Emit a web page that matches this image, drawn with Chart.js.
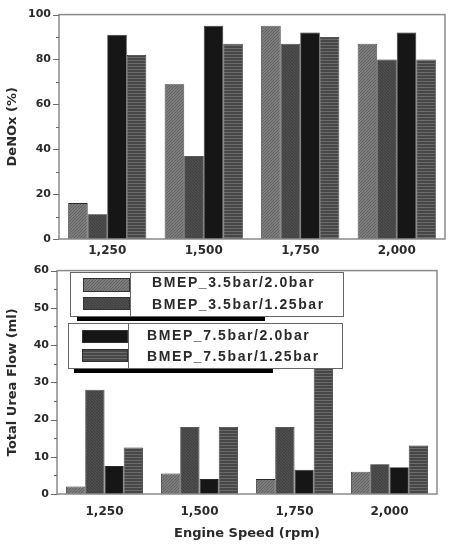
<!DOCTYPE html>
<html><head><meta charset="utf-8">
<script src="https://cdn.jsdelivr.net/npm/chart.js@4/dist/chart.umd.min.js"></script>
<style>
html,body{margin:0;padding:0;background:#fff;width:449px;height:545px;overflow:hidden;}
canvas{position:absolute;left:0;}
#c1{top:0;}
#c2{top:256px;}
</style></head>
<body>
<canvas id="c1" width="449" height="262"></canvas>
<canvas id="c2" width="449" height="289"></canvas>
<script>
// ---- data ----
const categories = ['1,250', '1,500', '1,750', '2,000'];
const seriesLabels = ['BMEP_3.5bar/2.0bar', 'BMEP_3.5bar/1.25bar', 'BMEP_7.5bar/2.0bar', 'BMEP_7.5bar/1.25bar'];
const deNOx_35_20  = [16, 69, 95, 87];
const deNOx_35_125 = [11, 37, 87, 80];
const deNOx_75_20  = [91, 95, 92, 92];
const deNOx_75_125 = [82, 87, 90, 80];
const urea_35_20  = [2, 5.5, 4, 6];
const urea_35_125 = [28, 18, 18, 8];
const urea_75_20  = [7.5, 4, 6.5, 7.2];
const urea_75_125 = [12.5, 18, 35, 13];

// ---- patterns ----
function makePattern(bg, fg, kind) {
  const s = 6;
  const c = document.createElement('canvas');
  c.width = s; c.height = s;
  const x = c.getContext('2d');
  x.fillStyle = bg; x.fillRect(0, 0, s, s);
  if (kind === 'solid') return bg;
  x.strokeStyle = fg; x.lineWidth = 1.2;
  x.beginPath();
  if (kind === 'fwd') {
    for (let k = -s; k <= s * 2; k += 3) { x.moveTo(k, s); x.lineTo(k + s, 0); }
  } else if (kind === 'back') {
    for (let k = -s; k <= s * 2; k += 3) { x.moveTo(k, 0); x.lineTo(k + s, s); }
  } else if (kind === 'horiz') {
    for (let k = 0.5; k < s; k += 3) { x.moveTo(0, k); x.lineTo(s, k); }
  }
  x.stroke();
  return document.createElement('canvas').getContext('2d').createPattern(c, 'repeat');
}
const fills = [
  makePattern('#8a8a8a', '#606060', 'fwd'),
  makePattern('#555555', '#3e3e3e', 'back'),
  makePattern('#161616', '#161616', 'solid'),
  makePattern('#474747', '#6a6a6a', 'horiz')
];

const TICK_FONT = 'DejaVu Sans';
const TEXT_COLOR = '#2a2a2a';

function datasets(arrs) {
  return arrs.map((d, i) => ({
    label: seriesLabels[i], data: d,
    backgroundColor: fills[i], borderColor: '#2a2a2a', borderWidth: 0.8,
    categoryPercentage: 0.81, barPercentage: 1.0
  }));
}

// frame + ticks plugin
const framePlugin = {
  id: 'frame',
  afterDatasetsDraw(chart, args, opts) {
    const ctx = chart.ctx, a = chart.chartArea, ys = chart.scales.y;
    ctx.save();
    ctx.strokeStyle = '#8a8a8a'; ctx.lineWidth = 1.5;
    ctx.strokeRect(a.left, a.top, a.right - a.left, a.bottom - a.top);
    ctx.strokeStyle = '#6a6a6a'; ctx.lineWidth = 1;
    const step = opts.minor;
    for (let v = ys.min, i = 0; v <= ys.max + 1e-9; v += step, i++) {
      const y = Math.round(ys.getPixelForValue(v)) + 0.5;
      const len = (i % 2 === 0) ? 6 : 3;
      ctx.beginPath(); ctx.moveTo(a.left - len, y); ctx.lineTo(a.left, y); ctx.stroke();
    }
    ctx.restore();
  }
};

// custom legend plugin (bottom chart)
const legendPlugin = {
  id: 'boxLegend',
  afterDraw(chart) {
    const ctx = chart.ctx;
    ctx.save();
    ctx.font = 'bold 14px "Liberation Sans"';
    try { ctx.letterSpacing = '1.6px'; } catch (e) {}
    ctx.textBaseline = 'middle';
    const boxes = [
      {x: 70, y: 16, w: 273, h: 44, div: 130, sx: 83, tx: 152, sh: [77, 61, 188, 4], items: [0, 1], rows: [[22, 36], [41, 54]], ty: [27, 49]},
      {x: 68, y: 67, w: 274, h: 45, div: 128, sx: 82, tx: 147, sh: [74, 112, 199, 5], items: [2, 3], rows: [[74, 87], [93, 106]], ty: [80, 101]}
    ];
    boxes.forEach(b => {
      ctx.fillStyle = '#000';
      ctx.fillRect(b.sh[0], b.sh[1], b.sh[2], b.sh[3]);
      ctx.fillStyle = '#fff';
      ctx.fillRect(b.x, b.y, b.w, b.h);
      ctx.strokeStyle = '#666'; ctx.lineWidth = 1;
      ctx.strokeRect(b.x + 0.5, b.y + 0.5, b.w, b.h);
      b.items.forEach((si, k) => {
        const r = b.rows[k];
        ctx.fillStyle = fills[si];
        ctx.fillRect(b.sx, r[0], b.div - b.sx, r[1] - r[0]);
        ctx.strokeStyle = '#333';
        ctx.strokeRect(b.sx + 0.5, r[0] + 0.5, b.div - b.sx - 1, r[1] - r[0] - 1);
        ctx.fillStyle = TEXT_COLOR;
        ctx.fillText(seriesLabels[si], b.tx, b.ty[k]);
      });
      ctx.strokeStyle = '#666';
      ctx.beginPath(); ctx.moveTo(b.div + 0.5, b.y); ctx.lineTo(b.div + 0.5, b.y + b.h + 0.5); ctx.stroke();
    });
    ctx.restore();
  }
};

function makeChart(id, arrs, cfg) {
  return new Chart(document.getElementById(id), {
    type: 'bar',
    data: { labels: categories, datasets: datasets(arrs) },
    plugins: cfg.legend ? [framePlugin, legendPlugin] : [framePlugin],
    options: {
      responsive: false, animation: false,
      layout: { padding: cfg.padding },
      plugins: { legend: { display: false }, tooltip: { enabled: false }, frame: { minor: cfg.minor } },
      scales: {
        x: {
          grid: { display: false, drawTicks: false }, border: { display: false },
          ticks: { color: TEXT_COLOR, font: { family: TICK_FONT, size: 12, weight: 'bold' }, padding: cfg.xPad, maxRotation: 0 },
          title: cfg.xTitle ? { display: true, text: cfg.xTitle, color: TEXT_COLOR, font: { family: TICK_FONT, size: 13, weight: 'bold' }, padding: { top: 0, bottom: 4 } } : { display: false },
          afterFit(s) { s.height = cfg.xH; }
        },
        y: {
          min: 0, max: cfg.max,
          grid: { display: false, drawTicks: false }, border: { display: false },
          ticks: { stepSize: cfg.step, color: TEXT_COLOR, font: { family: TICK_FONT, size: 11, weight: 'bold' }, padding: 8 },
          title: { display: true, text: cfg.yTitle, color: TEXT_COLOR, font: { family: TICK_FONT, size: 13, weight: 'bold' }, padding: { top: 5, bottom: 0 } },
          afterFit(s) { s.width = cfg.yW; }
        }
      }
    }
  });
}

makeChart('c1', [deNOx_35_20, deNOx_35_125, deNOx_75_20, deNOx_75_125], {
  padding: { top: 12, right: 4, left: 0, bottom: 0 }, max: 100, step: 20, minor: 10,
  yTitle: 'DeNOx (%)', yW: 59, xH: 23, xPad: 5
});
makeChart('c2', [urea_35_20, urea_35_125, urea_75_20, urea_75_125], {
  padding: { top: 11, right: 12, left: 0, bottom: 0 }, max: 60, step: 10, minor: 5,
  yTitle: 'Total Urea Flow (ml)', yW: 57, xH: 51, xPad: 11, xTitle: 'Engine Speed (rpm)', legend: true
});
</script>
</body></html>
